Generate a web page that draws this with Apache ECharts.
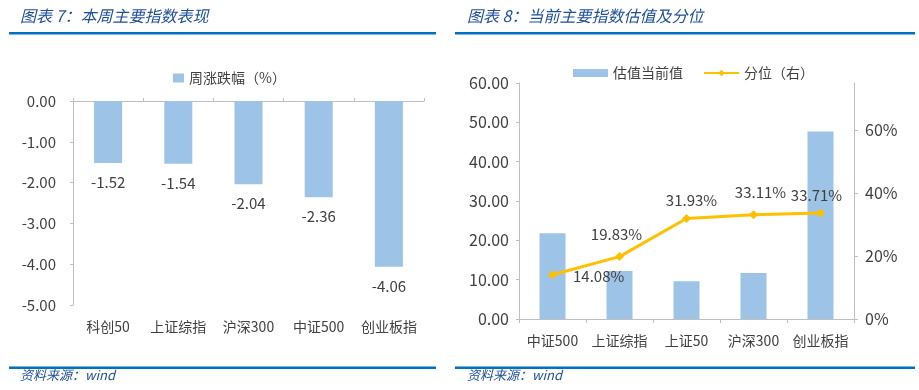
<!DOCTYPE html>
<html>
<head>
<meta charset="utf-8">
<script src="https://cdn.jsdelivr.net/npm/echarts@6/dist/echarts.min.js"></script>
<style>
html,body{margin:0;padding:0;background:#fff;}
#c{width:919px;height:390px;}
</style>
</head>
<body>
<div id="c"></div>
<script>
// ---- Data ----
const weekCategories = ['科创50', '上证综指', '沪深300', '中证500', '创业板指'];
const weekChange = [-1.52, -1.54, -2.04, -2.36, -4.06];
const valCategories = ['中证500', '上证综指', '上证50', '沪深300', '创业板指'];
const valCurrent = [21.8, 12.2, 9.6, 11.7, 47.7];
const valPercentile = [14.08, 19.83, 31.93, 33.11, 33.71];
const title1 = '图表 7：本周主要指数表现';
const title2 = '图表 8：当前主要指数估值及分位';
const sourceText = '资料来源：wind';

const FONT = '"Noto Sans CJK SC", "Microsoft YaHei", sans-serif';
const TXT = '#404040';
const AX = '#BFBFBF';
const BAR = '#9DC3E6';
const GOLD = '#FFC000';
const BLUE = '#0070C0';
const TBLUE = '#1F4E9A';

const chart = echarts.init(document.getElementById('c'), null, {renderer: 'canvas'});

const pctLabelTweaks = [
  {position: 'right', distance: 16, offset: [0, 2]},
  {position: 'top', distance: 10, offset: [-3, 0]},
  {position: 'top', distance: 6, offset: [5, 0]},
  {position: 'top', distance: 11, offset: [7, 0]},
  {position: 'top', distance: 6, offset: [-4, 0]}
];

const option = {
  animation: false,
  textStyle: {fontFamily: FONT},
  graphic: [
    {type: 'text', left: 20, top: 8, style: {text: title1, fill: TBLUE, font: 'italic 16px ' + FONT}},
    {type: 'text', left: 467, top: 8, style: {text: title2, fill: TBLUE, font: 'italic 16px ' + FONT}},
    {type: 'rect', shape: {x: 9, y: 32, width: 427, height: 2.5}, style: {fill: BLUE}},
    {type: 'rect', shape: {x: 455, y: 32, width: 460, height: 2.5}, style: {fill: BLUE}},
    {type: 'rect', shape: {x: 9, y: 366.5, width: 427, height: 2.5}, style: {fill: BLUE}},
    {type: 'rect', shape: {x: 455, y: 366.5, width: 460, height: 2.5}, style: {fill: BLUE}},
    {type: 'text', left: 20, top: 369, style: {text: sourceText, fill: TBLUE, font: 'italic 13px ' + FONT}},
    {type: 'text', left: 467, top: 369, style: {text: sourceText, fill: TBLUE, font: 'italic 13px ' + FONT}}
  ],
  legend: [
    {
      left: 168, top: 66, itemWidth: 11, itemHeight: 9, itemGap: 20,
      textStyle: {color: TXT, fontSize: 14, fontFamily: FONT},
      data: [{name: '周涨跌幅（%）', icon: 'rect'}]
    },
    {
      left: 568, top: 61, itemWidth: 35, itemHeight: 8, itemGap: 20,
      textStyle: {color: TXT, fontSize: 14, fontFamily: FONT},
      data: [{name: '估值当前值', icon: 'rect'}, {name: '分位（右）'}]
    }
  ],
  grid: [
    {left: 73, right: 495, top: 101, bottom: 85},
    {left: 519, right: 65, top: 83, bottom: 71}
  ],
  xAxis: [
    {
      type: 'category', gridIndex: 0, position: 'top', data: weekCategories,
      axisLine: {onZero: false, lineStyle: {color: AX}},
      axisTick: {show: true, length: 3, lineStyle: {color: AX}},
      axisLabel: {show: false}
    },
    {
      type: 'category', gridIndex: 0, position: 'bottom', data: weekCategories,
      axisLine: {show: false}, axisTick: {show: false},
      axisLabel: {color: TXT, fontSize: 14, margin: 15, interval: 0, fontFamily: FONT}
    },
    {
      type: 'category', gridIndex: 1, position: 'bottom', data: valCategories,
      axisLine: {lineStyle: {color: AX}},
      axisTick: {show: true, length: 4, lineStyle: {color: AX}},
      axisLabel: {color: TXT, fontSize: 14, margin: 15, interval: 0, fontFamily: FONT}
    }
  ],
  yAxis: [
    {
      type: 'value', gridIndex: 0, min: -5, max: 0, interval: 1,
      axisLine: {show: true, lineStyle: {color: AX}},
      axisTick: {show: true, length: 3, lineStyle: {color: AX}},
      splitLine: {show: false},
      axisLabel: {color: TXT, fontSize: 15, margin: 17, fontFamily: FONT,
        formatter: v => v.toFixed(2)}
    },
    {
      type: 'value', gridIndex: 1, min: 0, max: 60, interval: 10,
      axisLine: {show: true, lineStyle: {color: AX}},
      axisTick: {show: true, length: 3, lineStyle: {color: AX}},
      splitLine: {show: false},
      axisLabel: {color: TXT, fontSize: 16, margin: 10, fontFamily: FONT,
        formatter: v => v.toFixed(2)}
    },
    {
      type: 'value', gridIndex: 1, position: 'right', min: 0, max: 75, interval: 20,
      axisLine: {show: true, lineStyle: {color: AX}},
      axisTick: {show: true, length: 4, lineStyle: {color: AX}},
      splitLine: {show: false},
      axisLabel: {color: TXT, fontSize: 16, margin: 11, fontFamily: FONT,
        showMaxLabel: false,
        formatter: v => (v % 20 === 0 ? v + '%' : '')}
    }
  ],
  series: [
    {
      name: '周涨跌幅（%）', type: 'bar', xAxisIndex: 0, yAxisIndex: 0,
      data: weekChange, barWidth: 28,
      itemStyle: {color: BAR},
      label: {show: true, position: 'bottom', distance: 12, color: TXT, fontSize: 15,
        fontFamily: FONT, formatter: p => p.value.toFixed(2)}
    },
    {
      name: '估值当前值', type: 'bar', xAxisIndex: 2, yAxisIndex: 1,
      data: valCurrent, barWidth: 26,
      itemStyle: {color: BAR}
    },
    {
      name: '分位（右）', type: 'line', xAxisIndex: 2, yAxisIndex: 2,
      data: valPercentile.map((v, i) => ({value: v, label: pctLabelTweaks[i]})),
      symbol: 'diamond', symbolSize: 9,
      lineStyle: {color: GOLD, width: 3},
      itemStyle: {color: GOLD},
      z: 5,
      label: {show: true, color: TXT, fontSize: 15, fontFamily: FONT,
        formatter: p => p.value.toFixed(2) + '%'}
    }
  ]
};
chart.setOption(option);
</script>
</body>
</html>
